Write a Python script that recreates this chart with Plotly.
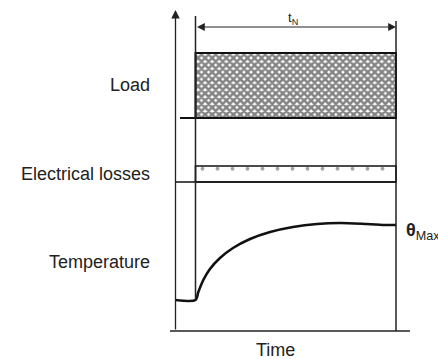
import plotly.graph_objects as go

# ---- data ----
row_labels = ["Load", "Electrical losses", "Temperature"]
duty_label = "t<sub>N</sub>"
temp_label = "<b>θ</b><sub>Max</sub>"
x_label = "Time"

t_on, t_off = 0.0, 10.0
load_level = 1.0
loss_level = 1.0
temp_time = [-1.0, 0.0, 0.14, 0.39, 0.72, 1.22, 1.87, 2.72, 3.72, 4.86, 6.06, 7.21, 8.55, 9.55, 10.0]
temp_vals = [0.31, 0.31, 0.39, 0.51, 0.62, 0.73, 0.83, 0.92, 0.99, 1.04, 1.07, 1.08, 1.07, 1.06, 1.06]

# ---- layout helpers (pixel geometry) ----
W, H = 438, 359
X0PX, X1PX = 195.5, 396.0
ppu = (X1PX - X0PX) / (t_off - t_on)
xr = [t_on - X0PX / ppu, t_on + (W - X0PX) / ppu]


def tx(px):
    return t_on + (px - X0PX) / ppu


def py(p):
    return 1 - p / H


def dom(p0, p1, v0, v1, lo, hi):
    k = (p0 - p1) / (v1 - v0)
    plo = p0 + (v0 - lo) * k
    phi = p0 - (hi - v0) * k
    return [py(plo), py(phi)], [lo, hi]


d1, r1 = dom(118, 53, 0, 1, -0.05, 1.25)
d2, r2 = dom(182, 166, 0, 1, -0.15, 1.3)
d3, r3 = dom(331, 231, 0, 1, -0.05, 1.35)

fig = go.Figure()

fig.add_trace(go.Scatter(
    x=[t_on, t_on, t_off, t_off, t_on], y=[0, load_level, load_level, 0, 0],
    mode="lines", fill="toself", fillcolor="white",
    fillpattern=dict(shape="x", fgcolor="#0a0a0a", bgcolor="white", size=5, solidity=0.75),
    line=dict(color="#111", width=2), yaxis="y", showlegend=False, hoverinfo="skip"))

fig.add_trace(go.Scatter(
    x=[t_on, t_on, t_off, t_off, t_on], y=[0, loss_level, loss_level, 0, 0],
    mode="lines", fill="toself", fillcolor="white",
    fillpattern=dict(shape=".", fgcolor="#444", bgcolor="white", size=15, solidity=0.05),
    line=dict(color="#111", width=1.6), yaxis="y2", showlegend=False, hoverinfo="skip"))

fig.add_trace(go.Scatter(
    x=temp_time, y=temp_vals, mode="lines",
    line=dict(color="#111", width=2.6, shape="spline", smoothing=0.8),
    yaxis="y3", showlegend=False, hoverinfo="skip"))

shapes = [
    dict(type="line", xref="x", yref="y3", x0=tx(170), x1=tx(410), y0=0, y1=0,
         line=dict(color="#222", width=1.5)),
    dict(type="line", xref="x", yref="y", x0=tx(180), x1=t_off, y0=0, y1=0,
         line=dict(color="#111", width=2)),
    dict(type="line", xref="x", yref="y2", x0=tx(175), x1=t_off, y0=0, y1=0,
         line=dict(color="#111", width=1.6)),
    dict(type="line", xref="x", yref="paper", x0=t_on, x1=t_on, y0=py(16), y1=py(300),
         line=dict(color="#222", width=1.5)),
    dict(type="line", xref="x", yref="paper", x0=t_off, x1=t_off, y0=py(21), y1=py(331),
         line=dict(color="#222", width=1.5)),
]

font = dict(family="Liberation Sans, Arial, sans-serif", size=18, color="#222")
ann = [
    dict(x=152 / W, y=py(84.5), xref="paper", yref="paper", text=row_labels[0],
         xanchor="right", yanchor="middle", showarrow=False, font=font),
    dict(x=152 / W, y=py(174), xref="paper", yref="paper", text=row_labels[1],
         xanchor="right", yanchor="middle", showarrow=False, font=font),
    dict(x=152 / W, y=py(262), xref="paper", yref="paper", text=row_labels[2],
         xanchor="right", yanchor="middle", showarrow=False, font=font),
    dict(x=275 / W, y=py(350), xref="paper", yref="paper", text=x_label,
         xanchor="center", yanchor="middle", showarrow=False, font=font),
    dict(x=404 / W, y=py(231), xref="paper", yref="paper", text=temp_label,
         xanchor="left", yanchor="middle", showarrow=False, font=font),
    dict(x=293 / W, y=py(19), xref="paper", yref="paper", text=duty_label,
         xanchor="center", yanchor="middle", showarrow=False,
         font=dict(family="Liberation Sans, Arial, sans-serif", size=13, color="#222")),
    # time span double arrow
    dict(x=t_off, y=py(27), xref="x", yref="paper", ax=t_on, ay=0, axref="x", ayref="pixel",
         text="", showarrow=True, arrowside="end+start", arrowhead=2, arrowsize=1.3,
         arrowwidth=1.2, arrowcolor="#222"),
    # vertical axis arrow
    dict(x=tx(175.5), y=py(10), xref="x", yref="paper", ax=0, ay=321, axref="pixel", ayref="pixel",
         text="", showarrow=True, arrowhead=2, arrowsize=1.3, arrowwidth=1.3, arrowcolor="#222"),
]

fig.update_layout(
    width=W, height=H, margin=dict(l=0, r=0, t=0, b=0),
    paper_bgcolor="white", plot_bgcolor="rgba(0,0,0,0)",
    xaxis=dict(range=xr, visible=False, domain=[0, 1]),
    yaxis=dict(domain=d1, range=r1, visible=False, anchor="x"),
    yaxis2=dict(domain=d2, range=r2, visible=False, anchor="x"),
    yaxis3=dict(domain=d3, range=r3, visible=False, anchor="x"),
    shapes=shapes, annotations=ann, showlegend=False,
)

fig.write_html(
    "out.html",
    config={"displayModeBar": False, "staticPlot": True},
    post_script="document.body.style.margin='0px';document.body.style.overflow='hidden';",
)
